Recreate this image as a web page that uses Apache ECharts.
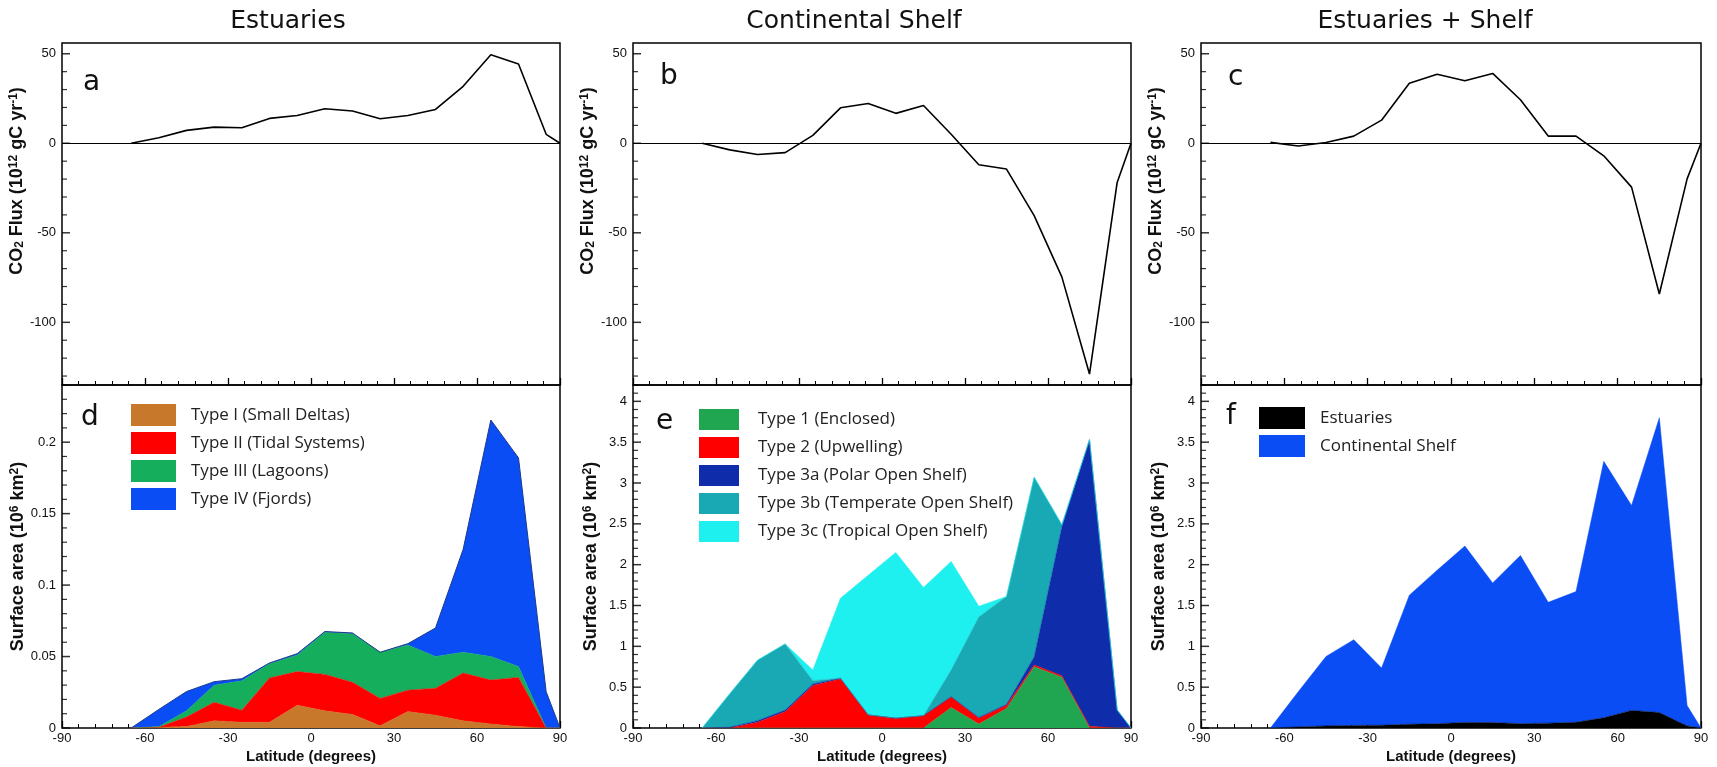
<!DOCTYPE html>
<html>
<head>
<meta charset="utf-8">
<script src="https://cdn.jsdelivr.net/npm/echarts@6/dist/echarts.min.js"></script>
<style>
  html, body { margin: 0; padding: 0; background: #fff; }
  #chart { width: 1717px; height: 767px; }
</style>
</head>
<body>
<div id="chart"></div>
<script>
// latitude bins (degrees)
const lat = [-65, -55, -45, -35, -25, -15, -5, 5, 15, 25, 35, 45, 55, 65, 75, 85, 90]

// CO2 flux (10^12 gC/yr) - panels a, b, c
const fluxEstuaries = [0, 3.1, 7.2, 9.0, 8.7, 13.9, 15.5, 19.3, 18.0, 13.7, 15.5, 18.9, 31.8, 49.4, 44.3, 5.0, 0]
const fluxShelf = [0, -3.7, -6.3, -5.2, 4.4, 19.8, 22.2, 16.7, 21.1, 5.0, -12.0, -14.4, -40.4, -74.6, -128.9, -21.9, 0]
const fluxTotal = [0.5, -1.5, 0.4, 4.0, 12.9, 33.5, 38.6, 34.9, 39.0, 24.3, 4.0, 4.0, -7.0, -24.5, -84.2, -19.9, 0]

// estuary surface area (10^6 km2) - panel d
const estTypeI = [0, 0.0005, 0.001, 0.005, 0.004, 0.004, 0.016, 0.012, 0.0095, 0.0015, 0.0115, 0.009, 0.005, 0.0028, 0.001, 0, 0]
const estTypeII = [0, 0, 0.0067, 0.013, 0.0085, 0.031, 0.0235, 0.0255, 0.0225, 0.0192, 0.015, 0.0188, 0.0335, 0.0308, 0.0344, 0, 0]
const estTypeIII = [0, 0.0005, 0.0043, 0.012, 0.0205, 0.010, 0.0115, 0.0295, 0.034, 0.0323, 0.0315, 0.0222, 0.0145, 0.0164, 0.0076, 0, 0]
const estTypeIV = [0, 0.012, 0.0135, 0.0024, 0.0015, 0.0005, 0.001, 0.0005, 0.0005, 0, 0.001, 0.020, 0.072, 0.1655, 0.146, 0.0254, 0]

// shelf surface area (10^6 km2) - panel e
const shelfType1 = [0, 0, 0, 0, 0, 0, 0, 0, 0, 0.25, 0.05, 0.24, 0.75, 0.62, 0, 0, 0]
const shelfType2 = [0, 0, 0.07, 0.2, 0.52, 0.6, 0.16, 0.12, 0.15, 0.13, 0.07, 0.04, 0.02, 0.02, 0.02, 0, 0]
const shelfType3a = [0, 0.01, 0.02, 0.02, 0.02, 0.01, 0, 0, 0, 0, 0.01, 0.01, 0.1, 1.82, 3.51, 0.22, 0]
const shelfType3b = [0, 0.41, 0.74, 0.81, 0.04, 0, 0, 0, 0, 0.33, 1.23, 1.32, 2.2, 0.03, 0, 0, 0]
const shelfType3c = [0, 0, 0, 0, 0.13, 0.98, 1.71, 2.03, 1.57, 1.33, 0.13, 0, 0, 0, 0, 0, 0]

// estuaries + shelf - panel f
const sumEstuaries = [0, 0.013, 0.026, 0.032, 0.034, 0.046, 0.052, 0.068, 0.066, 0.053, 0.059, 0.070, 0.125, 0.215, 0.189, 0.025, 0]
const sumShelf = [0, 0.43, 0.85, 1.05, 0.70, 1.58, 1.88, 2.16, 1.71, 2.06, 1.48, 1.60, 3.14, 2.51, 3.61, 0.25, 0]

// tick labels
const fluxTicks = [-100, -50, 0, 50]
const estTicks = [0, 0.05, 0.1, 0.15, 0.2]
const shelfTicks = [0, 0.5, 1, 1.5, 2, 2.5, 3, 3.5, 4]

function steps(from, to, step) {
  let out = []
  for (let v = from; v <= to + 1e-9; v += step) out.push(Math.round(v * 1000) / 1000)
  return out
}

function pairs(ys) {
  return lat.map((x, i) => [x, ys[i]])
}
// 堆叠用：值放在第一列，这样堆叠的是 y 而不是 x
function stackPairs(ys) {
  return lat.map((x, i) => [ys[i], x])
}

// 布局
const grids = [
  { left: 62, top: 43, width: 498, height: 342 },
  { left: 633, top: 43, width: 498, height: 342 },
  { left: 1201, top: 43, width: 500, height: 342 },
  { left: 62, top: 385, width: 498, height: 343 },
  { left: 633, top: 385, width: 498, height: 343 },
  { left: 1201, top: 385, width: 500, height: 343 }
]

const tickFont = { fontFamily: 'Liberation Sans', fontSize: 13, color: '#111' }
const nameStyle = {
  fontFamily: 'Liberation Sans',
  fontWeight: 'bold',
  fontSize: 18,
  color: '#111',
  rich: {
    sub: { fontFamily: 'Liberation Sans', fontWeight: 'bold', fontSize: 12, verticalAlign: 'bottom', color: '#111' },
    sup: { fontFamily: 'Liberation Sans', fontWeight: 'bold', fontSize: 12, verticalAlign: 'top', color: '#111' }
  }
}

let xAxis = []
let yAxis = []
let tickSeries = []

// y 轴刻度线：用 scatter 画在 x = -90 处
function yTicks(i, values, len, w) {
  return {
    type: 'scatter',
    xAxisIndex: i,
    yAxisIndex: i,
    data: values.map(v => [-90, v]),
    symbol: 'rect',
    symbolSize: [len, w],
    symbolOffset: [len / 2, 0],
    itemStyle: { color: '#000' },
    silent: true,
    clip: false,
    z: 5
  }
}

grids.forEach((g, i) => {
  let bottom = i >= 3
  xAxis.push({
    gridIndex: i,
    type: 'value',
    min: -90,
    max: 90,
    interval: 30,
    axisLine: { show: false, onZero: false },
    splitLine: { show: false },
    axisTick: { inside: true, length: 7, lineStyle: { color: '#000', width: 1.3 } },
    minorTick: { show: true, splitNumber: 5, length: 4, lineStyle: { color: '#000' } },
    axisLabel: bottom ? Object.assign({ margin: 4 }, tickFont) : { show: false },
    name: bottom ? 'Latitude (degrees)' : '',
    nameLocation: 'middle',
    nameGap: 21,
    nameTextStyle: { fontFamily: 'Liberation Sans', fontWeight: 'bold', fontSize: 15, color: '#111' }
  })

  let min, max, ticks, minor, name, pad
  if (!bottom) {
    min = -135; max = 56; ticks = fluxTicks; minor = steps(-130, 50, 10)
    name = 'CO{sub|2} Flux (10{sup|12} gC yr{sup|-1})'
    pad = [0, 0, 0, 66]
  } else if (i === 3) {
    min = 0; max = 0.24; ticks = estTicks; minor = steps(0, 0.24, 0.01)
    name = 'Surface area (10{sup|6} km{sup|2})'
    pad = 0
  } else {
    min = 0; max = 4.2; ticks = shelfTicks; minor = steps(0, 4.2, 0.1)
    name = 'Surface area (10{sup|6} km{sup|2})'
    pad = 0
  }
  yAxis.push({
    gridIndex: i,
    type: 'value',
    position: 'left',
    min: min,
    max: max,
    axisLine: { show: false, onZero: false },
    splitLine: { show: false },
    axisTick: { show: false },
    axisLabel: Object.assign({ margin: 6, customValues: ticks }, tickFont),
    name: name,
    nameLocation: 'middle',
    nameGap: 33,
    nameTextStyle: Object.assign({ padding: pad }, nameStyle)
  })
  tickSeries.push(yTicks(i, ticks, 8, 1.5))
  tickSeries.push(yTicks(i, minor.filter(v => ticks.indexOf(v) < 0), 5, 1.2))
})

function fluxLine(i, ys) {
  return {
    type: 'line',
    xAxisIndex: i,
    yAxisIndex: i,
    data: pairs(ys),
    symbol: 'none',
    lineStyle: { color: '#000', width: 1.6 },
    markLine: {
      silent: true,
      symbol: 'none',
      label: { show: false },
      lineStyle: { color: '#000', width: 1, type: 'solid' },
      data: [{ yAxis: 0 }]
    }
  }
}

function area(i, name, ys, color, stack, line) {
  return {
    name: name,
    type: 'line',
    xAxisIndex: i,
    yAxisIndex: i,
    stack: stack,
    encode: { x: 1, y: 0 },
    data: stackPairs(ys),
    symbol: 'none',
    color: color,
    itemStyle: { color: color },
    lineStyle: line || { color: color, width: 0.5 },
    areaStyle: { color: color, opacity: 1 }
  }
}

const series = [
  fluxLine(0, fluxEstuaries),
  fluxLine(1, fluxShelf),
  fluxLine(2, fluxTotal),
  area(3, 'Type I (Small Deltas)', estTypeI, '#c8782a', 'd'),
  area(3, 'Type II (Tidal Systems)', estTypeII, '#ff0000', 'd'),
  area(3, 'Type III (Lagoons)', estTypeIII, '#14ae5c', 'd'),
  area(3, 'Type IV (Fjords)', estTypeIV, '#0a4df5', 'd', { color: '#1b3a8c', width: 1 }),
  area(4, 'Type 1 (Enclosed)', shelfType1, '#20a650', 'e'),
  area(4, 'Type 2 (Upwelling)', shelfType2, '#ff0000', 'e'),
  area(4, 'Type 3a (Polar Open Shelf)', shelfType3a, '#0f2daa', 'e'),
  area(4, 'Type 3b (Temperate Open Shelf)', shelfType3b, '#19a9b5', 'e'),
  area(4, 'Type 3c (Tropical Open Shelf)', shelfType3c, '#1ef0f0', 'e'),
  area(5, 'Estuaries', sumEstuaries, '#000000', 'f'),
  area(5, 'Continental Shelf', sumShelf, '#0a4df5', 'f')
].concat(tickSeries)

function legendBox(names, left, top, w, h, gap, textPad) {
  return {
    data: names,
    orient: 'vertical',
    left: left,
    top: top,
    icon: 'rect',
    itemWidth: w,
    itemHeight: h,
    itemGap: gap,
    selectedMode: false,
    itemStyle: { borderWidth: 0 },
    textStyle: { fontFamily: 'Open Sans', fontSize: 17, color: '#222', padding: [0, 0, 0, textPad] }
  }
}

const legend = [
  legendBox(['Type I (Small Deltas)', 'Type II (Tidal Systems)', 'Type III (Lagoons)', 'Type IV (Fjords)'], 126, 399, 45, 22, 6, 10),
  legendBox(['Type 1 (Enclosed)', 'Type 2 (Upwelling)', 'Type 3a (Polar Open Shelf)', 'Type 3b (Temperate Open Shelf)', 'Type 3c (Tropical Open Shelf)'], 694, 404, 40, 21, 7, 14),
  legendBox(['Estuaries', 'Continental Shelf'], 1254, 402, 46, 22, 6, 10)
]

function label(text, x, y, size) {
  return {
    type: 'text',
    x: x,
    y: y,
    style: { text: text, font: size + 'px "DejaVu Sans"', fill: '#111', align: 'left', verticalAlign: 'middle' }
  }
}
function heading(text, x) {
  return {
    type: 'text',
    x: x,
    y: 21,
    style: { text: text, font: '25px "DejaVu Sans"', fill: '#111', align: 'center', verticalAlign: 'middle' }
  }
}

const graphic = [
  heading('Estuaries', 288),
  heading('Continental Shelf', 854),
  heading('Estuaries + Shelf', 1425),
  label('a', 83, 83, 28),
  label('b', 660, 77, 28),
  label('c', 1228, 78, 28),
  label('d', 81, 418, 28),
  label('e', 656, 422, 28),
  label('f', 1226, 417, 28)
]

const chart = echarts.init(document.getElementById('chart'))
chart.setOption({
  backgroundColor: '#fff',
  animation: false,
  grid: grids.map(g => Object.assign({ show: true, borderColor: '#000', borderWidth: 1.5, backgroundColor: 'transparent' }, g)),
  xAxis: xAxis,
  yAxis: yAxis,
  legend: legend,
  graphic: graphic,
  series: series
})
</script>
</body>
</html>
